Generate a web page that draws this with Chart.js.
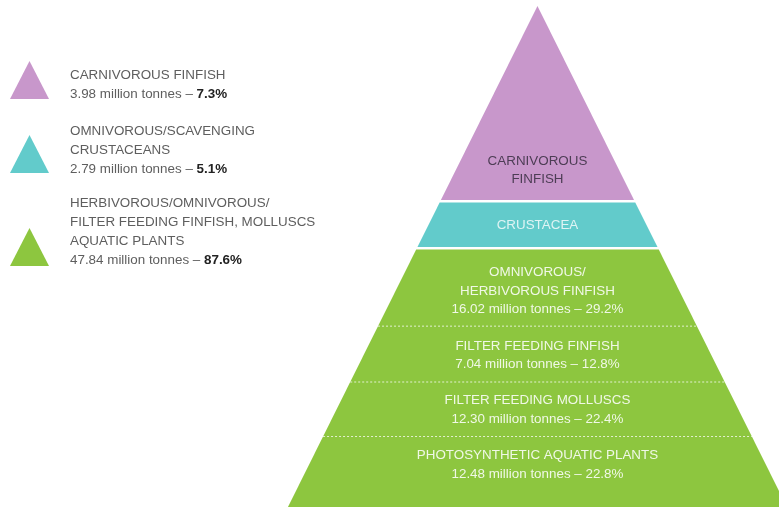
<!DOCTYPE html>
<html>
<head>
<meta charset="utf-8">
<script src="https://cdn.jsdelivr.net/npm/chart.js@4.4.1/dist/chart.umd.min.js"></script>
<style>
  html, body { margin: 0; padding: 0; background: #fff; }
  #wrap { position: relative; width: 779px; height: 507px; overflow: hidden; }
  #pyramid { position: absolute; left: 0; top: 0; }
  .legend { position: absolute; left: 0; top: 0; font-family: "Liberation Sans", Arial, sans-serif;
            font-size: 13.4px; color: #5e5e5e; }
  .tri { position: absolute; left: 10px; width: 39px; height: 38px;
         clip-path: polygon(50% 0, 100% 100%, 0 100%); }
  .txt { position: absolute; left: 70px; line-height: 19px; white-space: nowrap; }
  .txt b { color: #222; }
</style>
</head>
<body>
<div id="wrap">
  <canvas id="pyramid" width="779" height="507"></canvas>
  <div class="legend" id="legend"></div>
</div>
<script>
// legend groups
const groupNames = [
  ['CARNIVOROUS FINFISH'],
  ['OMNIVOROUS/SCAVENGING', 'CRUSTACEANS'],
  ['HERBIVOROUS/OMNIVOROUS/', 'FILTER FEEDING FINFISH, MOLLUSCS', 'AQUATIC PLANTS']
];
const groupTonnes = [3.98, 2.79, 47.84];
const groupShares = [7.3, 5.1, 87.6];

// pyramid layers, top to bottom
const layerNames = [
  ['CARNIVOROUS', 'FINFISH'],
  ['CRUSTACEA'],
  ['OMNIVOROUS/', 'HERBIVOROUS FINFISH'],
  ['FILTER FEEDING FINFISH'],
  ['FILTER FEEDING MOLLUSCS'],
  ['PHOTOSYNTHETIC AQUATIC PLANTS']
];
const layerTonnes = [null, null, 16.02, 7.04, 12.30, 12.48];
const layerShares = [null, null, 29.2, 12.8, 22.4, 22.8];

// layout: band edges in pyramid height units (0 = base, 1 = apex)
const bandTop    = [1.0, 0.608, 0.514];
const bandBottom = [0.613, 0.519, 0.0];
const dashLevels = [0.361, 0.2495, 0.1407];
const labelLevels = [0.672, 0.563, 0.431, 0.303, 0.194, 0.084];

const groupColors = ['#c897cb', '#62cbcb', '#8dc63f'];
const textColors = ['#4d3d55', '#dff4f4', '#f0f8e6', '#f0f8e6', '#f0f8e6', '#f0f8e6'];
const groupTops = [61, 135, 228];
const textTops = [65, 121, 193];

// ---- legend (left) ----
const legend = document.getElementById('legend');
groupNames.forEach((lines, i) => {
  const tri = document.createElement('div');
  tri.className = 'tri';
  tri.style.top = groupTops[i] + 'px';
  tri.style.background = groupColors[i];
  legend.appendChild(tri);
  const txt = document.createElement('div');
  txt.className = 'txt';
  txt.style.top = textTops[i] + 'px';
  txt.innerHTML = lines.join('<br>') + '<br>' + groupTonnes[i].toFixed(2) +
    ' million tonnes – <b>' + groupShares[i] + '%</b>';
  legend.appendChild(txt);
});

// ---- pyramid ----
function halfWidth(level) { return 1 - level; }

function bandShape(top, bottom) {
  return [
    { x: -halfWidth(bottom), y: bottom },
    { x: -halfWidth(top), y: top },
    { x: halfWidth(top), y: top },
    { x: halfWidth(bottom), y: bottom },
    { x: -halfWidth(bottom), y: bottom }
  ];
}

const datasets = [];
for (let i = 0; i < bandTop.length; i++) {
  datasets.push({
    data: bandShape(bandTop[i], bandBottom[i]),
    showLine: true,
    fill: 'shape',
    backgroundColor: groupColors[i],
    borderColor: groupColors[i],
    borderWidth: 0,
    pointRadius: 0,
    tension: 0,
    order: 2
  });
}
dashLevels.forEach(lv => {
  datasets.push({
    data: [{ x: -halfWidth(lv), y: lv }, { x: halfWidth(lv), y: lv }],
    showLine: true,
    fill: false,
    borderColor: 'rgba(255,255,255,0.75)',
    borderWidth: 1,
    borderDash: [2, 2],
    pointRadius: 0,
    order: 1
  });
});

const layerLabels = {
  id: 'layerLabels',
  afterDatasetsDraw(chart) {
    const { ctx, scales } = chart;
    ctx.save();
    ctx.textAlign = 'center';
    ctx.textBaseline = 'middle';
    ctx.font = '13.4px "Liberation Sans", Arial, sans-serif';
    const cx = scales.x.getPixelForValue(0);
    layerNames.forEach((lines, i) => {
      const all = lines.slice();
      if (layerTonnes[i] !== null) {
        all.push(layerTonnes[i].toFixed(2) + ' million tonnes – ' + layerShares[i] + '%');
      }
      const cy = scales.y.getPixelForValue(labelLevels[i]);
      const lh = 18.5;
      const y0 = cy - (all.length - 1) * lh / 2;
      ctx.fillStyle = textColors[i];
      all.forEach((t, k) => ctx.fillText(t, cx, y0 + k * lh));
    });
    ctx.restore();
  }
};

new Chart(document.getElementById('pyramid').getContext('2d'), {
  type: 'scatter',
  data: { datasets: datasets },
  options: {
    responsive: false,
    animation: false,
    layout: { padding: 0 },
    scales: {
      x: { display: false, min: -2.154, max: 0.968 },
      y: { display: false, min: 0, max: 1.012 }
    },
    plugins: {
      legend: { display: false },
      tooltip: { enabled: false }
    }
  },
  plugins: [layerLabels]
});
</script>
</body>
</html>
